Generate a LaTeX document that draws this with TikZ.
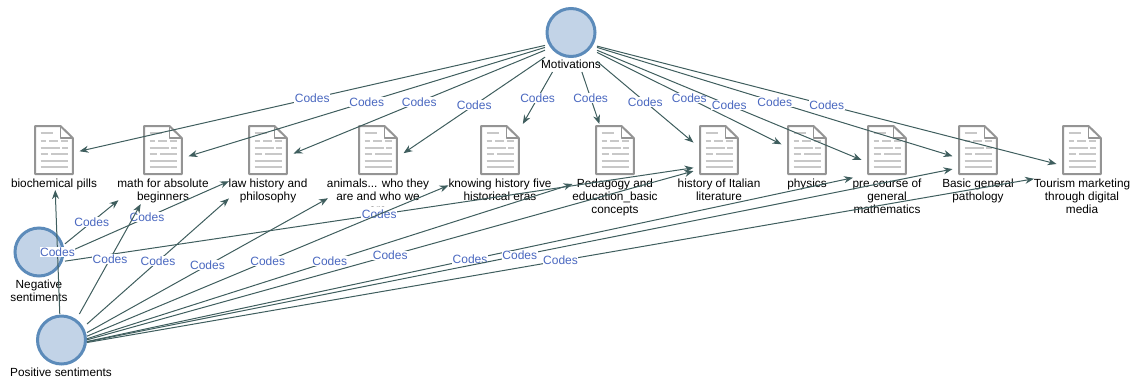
\documentclass[tikz,border=0pt]{standalone}
\usepackage{fontspec}
\setmainfont{Liberation Sans}
\usepackage{xcolor}
\usetikzlibrary{arrows.meta}
\definecolor{edgecol}{HTML}{3F5E5E}
\definecolor{codecol}{HTML}{4A68C0}
\definecolor{circfill}{HTML}{C2D3E7}
\definecolor{circline}{HTML}{5C8BBA}
\definecolor{doccol}{HTML}{949494}
\definecolor{rowcol}{HTML}{C8C8C8}
\tikzset{
    docicon/.pic = {
        \draw[doccol, line width=2pt, fill=white, line join=round] (-18.8,1) -- (6.5,1) -- (18.8,13) -- (18.8,49) -- (-18.8,49) -- cycle;
        \draw[doccol, line width=1.6pt, line join=round] (6.5,1) -- (6.5,13) -- (18.8,13);
        \draw[rowcol, line width=1.2pt] (-13.5,8) -- (-1.5,8);
        \draw[rowcol, line width=1.2pt] (-13.5,16) -- (-8,16) (-5,16) -- (4,16) (7,16) -- (13.5,16);
        \draw[rowcol, line width=1.2pt] (-13.5,23) -- (6,23) (8,23) -- (13.5,23);
        \draw[rowcol, line width=1.2pt] (-13.5,29) -- (-6,29) (-3,29) -- (13.5,29);
        \draw[rowcol, line width=1.2pt] (-13.5,36) -- (13.5,36);
        \draw[rowcol, line width=1.2pt] (-13.5,42) -- (13.5,42);
    },
    circ/.style = {circle, draw=circline, fill=circfill, line width=3pt, minimum size=48pt, inner sep=0pt},
    hit/.style = {rectangle, inner sep=0pt, outer sep=0pt, minimum width=51pt},
    src/.style = {rectangle, inner sep=0pt, outer sep=0pt, minimum width=52pt},
    txt/.style = {anchor=north, align=center, inner sep=0pt, font=\fontsize{11.8}{13}\selectfont},
    codes/.style = {fill=white, text=codecol, inner sep=0.5pt, font=\fontsize{12}{12}\selectfont},
    edge/.style = {draw=edgecol, line width=1pt, -{Stealth[length=9pt, width=7pt]}}
}
\begin{document}
\begin{tikzpicture}[x=1pt, y=-1pt]
    \useasboundingbox (0,0) rectangle (1131,381);

    \node[circ] (motc) at (571,32.5) {};
    \node[circ] (negc) at (39,252) {};
    \node[circ] (posc) at (61.5,340) {};
    \node[txt] (mott) at (571,59.5) {Motivations};
    \node[txt] (negt) at (39,280) {Negative\\sentiments};
    \node[txt] (post) at (61,368) {Positive sentiments};

    \node[src, minimum height=65pt] (mot) at (571,39.5) {};
    \node[src, minimum height=76pt] (neg) at (39,265) {};
    \node[src, minimum height=66pt] (pos) at (61,347) {};

    \pic at (54,125) {docicon};
    \pic at (163,125) {docicon};
    \pic at (268,125) {docicon};
    \pic at (378,125) {docicon};
    \pic at (500,125) {docicon};
    \pic at (615,125) {docicon};
    \pic at (719,125) {docicon};
    \pic at (807,125) {docicon};
    \pic at (887,125) {docicon};
    \pic at (978,125) {docicon};
    \pic at (1082,125) {docicon};

    \node[txt] (pillst) at (54,179) {biochemical pills};
    \node[txt] (matht) at (163,179) {math for absolute\\beginners};
    \node[txt] (lawt) at (268,179) {law history and\\philosophy};
    % third line is cut off
    \begin{scope}
        \clip (300,170) rectangle (460,206.5);
        \node[txt] (animt) at (378,179) {animals... who they\\are and who we\\are};
    \end{scope}
    \node[txt] (fivet) at (500,179) {knowing history five\\historical eras};
    \node[txt] (pedat) at (615,179) {Pedagogy and\\education\_basic\\concepts};
    \node[txt] (italt) at (719,179) {history of Italian\\literature};
    \node[txt] (physt) at (807,179) {physics};
    \node[txt] (pret) at (887,179) {pre course of\\general\\mathematics};
    \node[txt] (bast) at (978,179) {Basic general\\pathology};
    \node[txt] (tourt) at (1082,179) {Tourism marketing\\through digital\\media};

    % icon boxes
    \node[hit, minimum height=66pt] (pills) at (54,157) {};
    \node[hit, minimum height=80pt] (math) at (163,164) {};
    \node[hit, minimum height=80pt] (law) at (268,164) {};
    \node[hit, minimum height=93pt] (anim) at (378,170.5) {};
    \node[hit, minimum height=80pt] (five) at (500,164) {};
    \node[hit, minimum height=93pt] (peda) at (615,170.5) {};
    \node[hit, minimum height=80pt] (ital) at (719,164) {};
    \node[hit, minimum height=66pt] (phys) at (807,157) {};
    \node[hit, minimum height=93pt] (pre) at (887,170.5) {};
    \node[hit, minimum height=80pt] (bas) at (978,164) {};
    \node[hit, minimum height=93pt] (tour) at (1082,170.5) {};

    % label boxes
    \node[hit, minimum width=85pt, minimum height=66pt] (pillsb) at (54,157) {};
    \node[hit, minimum width=89pt, minimum height=80pt] (mathb) at (163,164) {};
    \node[hit, minimum width=78pt, minimum height=80pt] (lawb) at (268,164) {};
    \node[hit, minimum width=100pt, minimum height=93pt] (animb) at (378,170.5) {};
    \node[hit, minimum width=103pt, minimum height=80pt] (fiveb) at (500,164) {};
    \node[hit, minimum width=85pt, minimum height=93pt] (pedab) at (615,170.5) {};
    \node[hit, minimum width=68pt, minimum height=93pt] (preb) at (887,170.5) {};
    \node[hit, minimum width=96pt, minimum height=93pt] (tourb) at (1082,170.5) {};

    \draw[edge] (neg) -- node[codes] {Codes} (mathb);
    \draw[edge] (neg) -- node[codes] {Codes} (lawb);
    \draw[edge] (neg) -- node[codes] {Codes} (ital);

    \draw[edge] (pos) -- node[codes] {Codes} (pillsb);
    \draw[edge] (pos) -- node[codes] {Codes} (mathb);
    \draw[edge] (pos) -- node[codes] {Codes} (lawb);
    \draw[edge] (pos) -- node[codes] {Codes} (animb);
    \draw[edge] (pos) -- node[codes] {Codes} (fiveb);
    \draw[edge] (pos) -- node[codes] {Codes} (pedab);
    \draw[edge] (pos) -- node[codes] {Codes} (ital);
    \draw[edge] (pos) -- node[codes] {Codes} (preb);
    \draw[edge] (pos) -- node[codes] {Codes} (bas);
    \draw[edge] (pos) -- node[codes] {Codes} (tourb);

    \draw[edge] (mot) -- node[codes] {Codes} (pills);
    \draw[edge] (mot) -- node[codes] {Codes} (math);
    \draw[edge] (mot) -- node[codes] {Codes} (law);
    \draw[edge] (mot) -- node[codes] {Codes} (anim);
    \draw[edge] (mot) -- node[codes] {Codes} (five);
    \draw[edge] (mot) -- node[codes] {Codes} (peda);
    \draw[edge] (mot) -- node[codes] {Codes} (ital);
    \draw[edge] (mot) -- node[codes] {Codes} (phys);
    \draw[edge] (mot) -- node[codes] {Codes} (pre);
    \draw[edge] (mot) -- node[codes] {Codes} (bas);
    \draw[edge] (mot) -- node[codes] {Codes} (tour);
\end{tikzpicture}
\end{document}
